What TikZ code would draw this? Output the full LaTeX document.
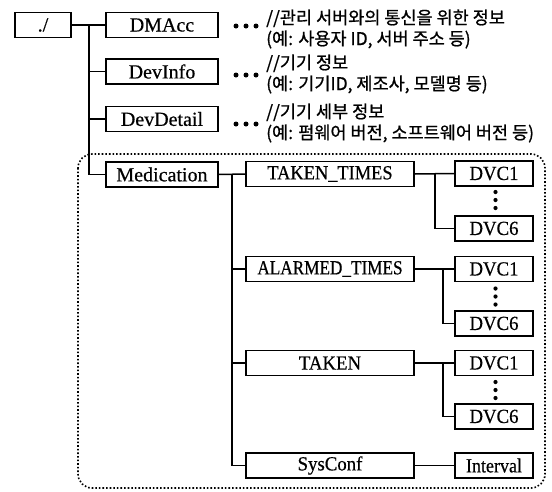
\documentclass[tikz,border=0pt]{standalone}
\usepackage{fontspec}
\setmainfont{Liberation Serif}[FakeBold=0.5]
\newfontfamily\krfont{Noto Sans CJK KR}[FakeBold=0.9]
\begin{document}
\begin{tikzpicture}[x=1pt,y=-1pt,
  box/.style={draw,line width=1.3pt,minimum height=25pt,inner sep=0pt,
    font=\fontsize{20}{20}\selectfont},
  lvl1/.style={box,minimum width=112pt},
  lvl2/.style={box,minimum width=168pt},
  leaf/.style={box,minimum width=78pt},
  conn/.style={line width=1.5pt},
  note/.style={anchor=west,align=left,inner sep=0pt,
    font=\krfont\fontsize{17.5}{21}\selectfont},
  bul/.style={fill,circle,inner sep=0pt,minimum size=5pt},
  vbul/.style={fill,circle,inner sep=0pt,minimum size=4.2pt}]
\useasboundingbox (0,0) rectangle (552,491);
% group frame
\draw[dotted,line width=1.6pt,rounded corners=14pt] (78,154) rectangle (545,488);
% nodes
\node[box,minimum width=56pt] (root) at (43,25) {./};
\node[lvl1] (dmacc) at (162,25) {DMAcc};
\node[lvl1] (devinfo) at (162,71.5) {DevInfo};
\node[lvl1] (devdetail) at (162,119) {DevDetail};
\node[lvl1] (med) at (162,174.5) {Medication};
\node[lvl2] (tt) at (330,174) {\scalebox{0.92}[1]{TAKEN\_TIMES}};
\node[lvl2] (at) at (330,269) {\scalebox{0.86}[1]{ALARMED\_TIMES}};
\node[lvl2] (tk) at (330,363) {\scalebox{0.94}[1]{TAKEN}};
\node[lvl2] (sc) at (330,465.5) {\scalebox{0.94}[1]{SysConf}};
\node[leaf] (a1) at (494,173.5) {\scalebox{0.94}[1]{DVC1}};
\node[leaf] (a6) at (494,228.5) {\scalebox{0.94}[1]{DVC6}};
\node[leaf] (b1) at (494,269) {\scalebox{0.94}[1]{DVC1}};
\node[leaf] (b6) at (494,323.5) {\scalebox{0.94}[1]{DVC6}};
\node[leaf] (c1) at (494,363) {\scalebox{0.94}[1]{DVC1}};
\node[leaf] (c6) at (494,416.5) {\scalebox{0.94}[1]{DVC6}};
\node[leaf] (iv) at (494,465.5) {\scalebox{0.9}[1]{Interval}};
% connectors level 1
\coordinate (t1) at (89,25);
\draw[conn] (root.east) -- (dmacc.west);
\draw[conn] (t1) |- (med.west);
\draw[conn] (t1) |- (devinfo.west);
\draw[conn] (t1) |- (devdetail.west);
% level 2
\coordinate (t2) at (232,174.5);
\draw[conn] (med.east) -- (tt.west);
\draw[conn] (t2) |- (sc.west);
\draw[conn] (t2) |- (at.west);
\draw[conn] (t2) |- (tk.west);
% leaves
\coordinate (ta) at (435,174);
\draw[conn] (tt.east) -- (a1.west);
\draw[conn] (ta) |- (a6.west);
\coordinate (tb) at (443,269);
\draw[conn] (at.east) -- (b1.west);
\draw[conn] (tb) |- (b6.west);
\coordinate (tc) at (443,363);
\draw[conn] (tk.east) -- (c1.west);
\draw[conn] (tc) |- (c6.west);
\draw[conn] (sc.east) -- (iv.west);
% vertical ellipses
\foreach \c in {200,296.5,390}{
  \node[vbul] at (495.5,\c-8) {};
  \node[vbul] at (495.5,\c) {};
  \node[vbul] at (495.5,\c+8) {};
}
% horizontal ellipses
\foreach \y in {26,75,124}{
  \node[bul] at (236,\y) {};
  \node[bul] at (246,\y) {};
  \node[bul] at (256,\y) {};
}
% notes
\node[note] (n1) at (266,29) {//관리 서버와의 통신을 위한 정보\\(예: 사용자 ID, 서버 주소 등)};
\node[note] (n2) at (266,74) {//기기 정보\\(예: 기기ID, 제조사, 모델명 등)};
\node[note] (n3) at (266,123) {//기기 세부 정보\\(예: 펌웨어 버전, 소프트웨어 버전 등)};
\end{tikzpicture}
\end{document}
